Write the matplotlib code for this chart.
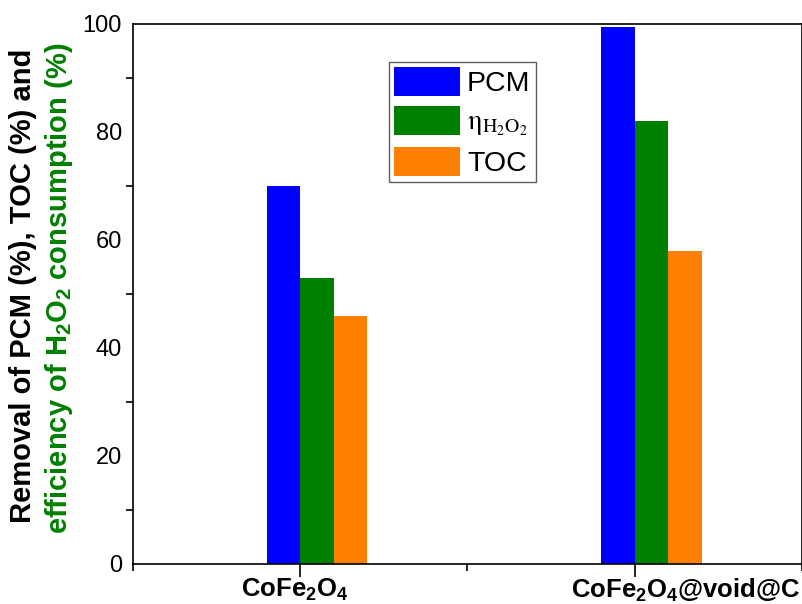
import numpy as np
import matplotlib.pyplot as plt
import matplotlib.transforms as mtransforms
from matplotlib.patches import Patch
from matplotlib.ticker import MultipleLocator

plt.rcParams['font.family'] = 'Liberation Sans'
plt.rcParams['mathtext.fontset'] = 'custom'
plt.rcParams['mathtext.rm'] = 'Liberation Sans'
plt.rcParams['mathtext.bf'] = 'Liberation Sans:bold'
plt.rcParams['mathtext.it'] = 'Liberation Sans:italic'

catalysts = [r'$\mathbf{CoFe_2O_4}$', r'$\mathbf{CoFe_2O_4@void@C}$']
pcm = [70.0, 99.5]
eta_h2o2 = [53.0, 82.0]
toc = [46.0, 58.0]

series = [pcm, eta_h2o2, toc]
colors = ['#0000ff', '#008000', '#ff8000']
labels = ['PCM', r'$\mathrm{η}_{\mathrm{H_2O_2}}$', 'TOC']

fig = plt.figure(figsize=(8.03, 6.04), dpi=100)
ax = fig.add_axes([133/803, 40/604, 669/803, 540/604])

x = np.arange(1, len(catalysts) + 1)
w = 0.1
offsets = [-0.05, 0.05, 0.15]
for vals, c, off in zip(series, colors, offsets):
    ax.bar(x + off, vals, width=w, color=c, edgecolor='none')

ax.set_xlim(0.5, 2.5)
ax.set_ylim(0, 100)
ax.set_xticks(x)
ax.set_xticklabels(catalysts, fontsize=18.5)
ax.xaxis.set_minor_locator(MultipleLocator(0.5))
ax.yaxis.set_major_locator(MultipleLocator(20))
ax.yaxis.set_minor_locator(MultipleLocator(10))
ax.tick_params(axis='y', which='major', length=0, labelsize=17, pad=8)
ax.tick_params(axis='y', which='minor', length=5, width=1.2)
ax.tick_params(axis='x', which='major', length=9, width=1.2, pad=0)
ax.tick_params(axis='x', which='minor', length=5, width=1.2)
for s in ax.spines.values():
    s.set_linewidth(1.2)

# the category labels sit a little off their ticks
for lab, dx in zip(ax.get_xticklabels(), [-6, 51]):
    lab.set_transform(lab.get_transform() +
                      mtransforms.ScaledTranslation(dx / 100, 0, fig.dpi_scale_trans))

fig.text(23/803, 1 - 286/604, 'Removal of PCM (%), TOC (%) and', rotation=90,
         ha='center', va='center', fontsize=21, fontweight='bold', color='black')
fig.text(59/803, 1 - 288/604, r'efficiency of H$_\mathbf{2}$O$_\mathbf{2}$ consumption (%)',
         rotation=90, ha='center', va='center', fontsize=21, fontweight='bold',
         color='#008000')

handles = [Patch(facecolor=c, edgecolor='none') for c in colors]
leg = ax.legend(handles, labels, loc='upper left', bbox_to_anchor=(0.383, 0.93),
                fontsize=20.5, frameon=True, fancybox=False, edgecolor='#333333',
                handlelength=2.3, handleheight=1.2, handletextpad=0.25,
                borderpad=0.18, labelspacing=0.3, borderaxespad=0)
leg.get_frame().set_linewidth(1.0)
leg.get_texts()[1].set_math_fontfamily('stix')

fig.savefig('out.png', dpi=100)
